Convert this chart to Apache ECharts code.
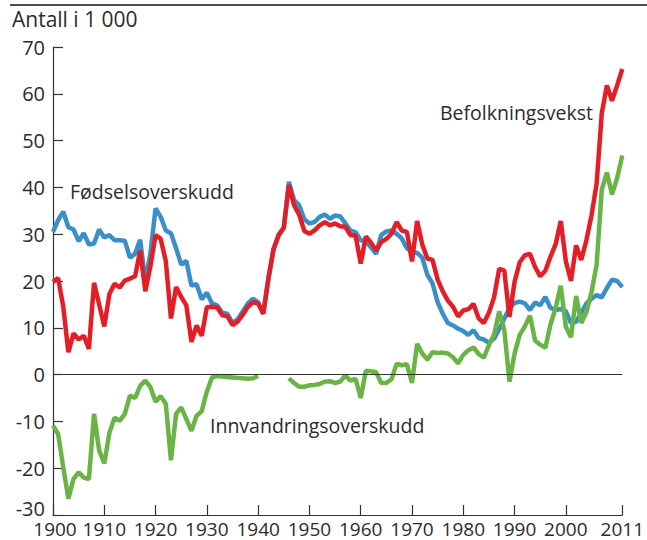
<!DOCTYPE html>
<html>
<head>
<meta charset="utf-8">
<script src="https://cdn.jsdelivr.net/npm/echarts@6/dist/echarts.min.js"></script>
<style>
  html, body { margin: 0; padding: 0; background: #fff; }
  #main { width: 647px; height: 540px; }
</style>
</head>
<body>
<div id="main"></div>
<script>
// år 1900-2011
var years = [];
for (var y = 1900; y <= 2011; y++) years.push(String(y));

var tickYears = ['1900', '1910', '1920', '1930', '1940', '1950', '1960', '1970', '1980', '1990', '2000', '2011'];

// Fødselsoverskudd (1 000)
var fodsel = [
  30.5, 33, 34.8, 31.5, 31, 28.5, 30.2, 27.8, 28, 31,
  29.3, 29.8, 28.7, 28.7, 28.6, 25, 25.8, 28.8, 19.8, 26,
  35.5, 33.7, 30.8, 30.2, 27, 23.5, 24.3, 19, 19.3, 16.1,
  17.5, 15.2, 14.8, 13.2, 13, 11, 11.8, 13.5, 15.2, 16.2,
  15.5, 13, 20.5, 26.8, 29.8, 31.4, 41.2, 37.3, 36.2, 33.2,
  32.3, 32.6, 33.7, 34.2, 33.3, 34, 33.8, 32.3, 30.8, 30.4,
  28.7, 28.5, 27.2, 25.8, 29.8, 30.6, 30.8, 30.1, 29.1, 27,
  26.2, 26, 25, 21.3, 19.5, 15.5, 13, 11, 10.5, 9.8,
  9.3, 8.5, 9.5, 7.8, 7.5, 6.8, 7.7, 9.7, 12, 14.2,
  15.3, 15.6, 15.2, 13.8, 15.4, 14.8, 16.6, 14.3, 13.8, 14,
  13.5, 11, 11.3, 13.2, 15.2, 16.2, 17, 16.5, 18.5, 20.3,
  20, 18.7
];

// Befolkningsvekst (1 000)
var befolkning = [
  19.8, 20.6, 14.5, 4.8, 8.8, 7.5, 8.3, 5.5, 19.6, 15,
  10.3, 17.2, 19.4, 18.6, 20.1, 20.5, 21, 26.5, 17.8, 23.2,
  29.8, 29, 24.2, 12, 18.7, 16.6, 14.8, 7, 10.5, 8.3,
  14.4, 14.5, 14.4, 12.7, 12.5, 10.6, 11.3, 12.8, 14.5, 15.5,
  15.2, 13, 20.5, 26.8, 29.8, 31.4, 40.5, 36.2, 34.2, 30.7,
  30.1, 30.8, 31.9, 32.6, 31.9, 32.3, 31.7, 31.6, 29.8, 29.7,
  23.7, 29.5, 28.2, 26.5, 28.3, 29, 30.1, 32.6, 30.8, 30.5,
  24.2, 32.8, 27.8, 24.8, 24.5, 20.3, 17.8, 15.8, 14.5, 12.4,
  13.7, 14, 15.1, 12, 11, 13.2, 16.5, 22.6, 22.2, 12.3,
  19.8, 24, 25.5, 25.8, 23, 21, 22.2, 25.2, 27.8, 32.8,
  24.2, 20, 27.6, 24.5, 28.7, 34, 40.8, 55.8, 61.8, 58.5,
  61.8, 65.3
];

// Innvandringsoverskudd (1 000), ingen tall 1941-1945
var innvandring = [
  -10.9, -12.7, -19.8, -26.5, -22.3, -20.9, -22, -22.3, -8.4, -16.2,
  -19, -12.4, -9.2, -9.9, -8.4, -4.5, -5, -2.4, -1.3, -2.7,
  -5.8, -4.6, -6.3, -18.3, -8.4, -7, -9.5, -12, -8.8, -7.8,
  -3.6, -0.6, -0.3, -0.4, -0.5, -0.6, -0.7, -0.8, -0.9, -0.8,
  -0.3, null, null, null, null, null, -0.8, -1.8, -2.6, -2.6,
  -2.3, -2.2, -2, -1.5, -1.4, -1.8, -1.5, -0.2, -1.3, -0.9,
  -5, 0.8, 0.7, 0.5, -1.8, -1.8, -1, 2.3, 2, 2.2,
  -1.8, 6.6, 4.5, 3.2, 4.8, 4.6, 4.7, 4.5, 3.7, 2.4,
  4.2, 5.2, 5.8, 4.4, 3.6, 6.3, 8.5, 13.5, 9.5, -1.5,
  4.5, 8.5, 10.3, 12.6, 7.3, 6.4, 5.7, 10.7, 14.2, 19,
  10.2, 8, 16.8, 11, 13.3, 17.6, 23.5, 39.5, 43.2, 38.5,
  42, 46.8
];

var font = '"Open Sans", sans-serif';
var textColor = '#2b2b2b';

var chart = echarts.init(document.getElementById('main'), null, { renderer: 'svg' });

function showYear(idx, val) {
  return tickYears.indexOf(val) >= 0;
}

chart.setOption({
  animation: false,
  grid: { left: 53, right: 20, top: 47, bottom: 25 },
  xAxis: {
    type: 'category',
    data: years,
    boundaryGap: false,
    axisLine: { onZero: false, lineStyle: { color: '#333', width: 1.2 } },
    axisTick: { inside: true, length: 10, interval: showYear, lineStyle: { color: '#333', width: 1.2 } },
    axisLabel: {
      interval: showYear, color: textColor, fontFamily: font, fontSize: 19, margin: 4,
      formatter: function (v) { return v === '1900' ? '{first|1900}' : v; },
      rich: { first: { fontFamily: font, fontSize: 19, color: textColor, padding: [0, 0, 0, 4] } }
    },
    splitLine: { show: false }
  },
  yAxis: {
    type: 'value',
    min: -30,
    max: 70,
    interval: 10,
    axisLine: { show: true, lineStyle: { color: '#333', width: 1.2 } },
    axisTick: { show: true, inside: true, length: 10, lineStyle: { color: '#333', width: 1.2 } },
    axisLabel: {
      color: textColor, fontFamily: font, fontSize: 20, margin: 8,
      formatter: function (v) { return v === -30 ? '{low|-30}' : String(v); },
      rich: { low: { fontFamily: font, fontSize: 20, color: textColor, padding: [0, 0, 14, 0] } }
    },
    splitLine: { show: false }
  },
  series: [
    {
      name: 'Fødselsoverskudd',
      type: 'line',
      data: fodsel,
      symbol: 'none',
      lineStyle: { color: '#3a8fc8', width: 4.5 },
      z: 2
    },
    {
      name: 'Innvandringsoverskudd',
      type: 'line',
      data: innvandring,
      symbol: 'none',
      connectNulls: false,
      lineStyle: { color: '#6ab446', width: 4.5 },
      markLine: {
        silent: true,
        symbol: 'none',
        label: { show: false },
        lineStyle: { color: '#333', width: 1.2, type: 'solid' },
        data: [{ yAxis: 0 }]
      },
      z: 3
    },
    {
      name: 'Befolkningsvekst',
      type: 'line',
      data: befolkning,
      symbol: 'none',
      lineStyle: { color: '#e41e26', width: 4.5 },
      z: 4
    }
  ],
  graphic: [
    { type: 'line', shape: { x1: 10, y1: 5, x2: 647, y2: 5 }, style: { stroke: '#111', lineWidth: 1.5 } },
    { type: 'text', left: 12, top: 8, style: { text: 'Antall i 1 000', fill: textColor, font: '21px ' + font } },
    { type: 'text', left: 70, top: 181, style: { text: 'Fødselsoverskudd', fill: textColor, font: '19.5px ' + font } },
    { type: 'text', left: 440, top: 102, style: { text: 'Befolkningsvekst', fill: textColor, font: '19.5px ' + font } },
    { type: 'text', left: 210, top: 415, style: { text: 'Innvandringsoverskudd', fill: textColor, font: '19.5px ' + font } }
  ]
});
</script>
</body>
</html>
